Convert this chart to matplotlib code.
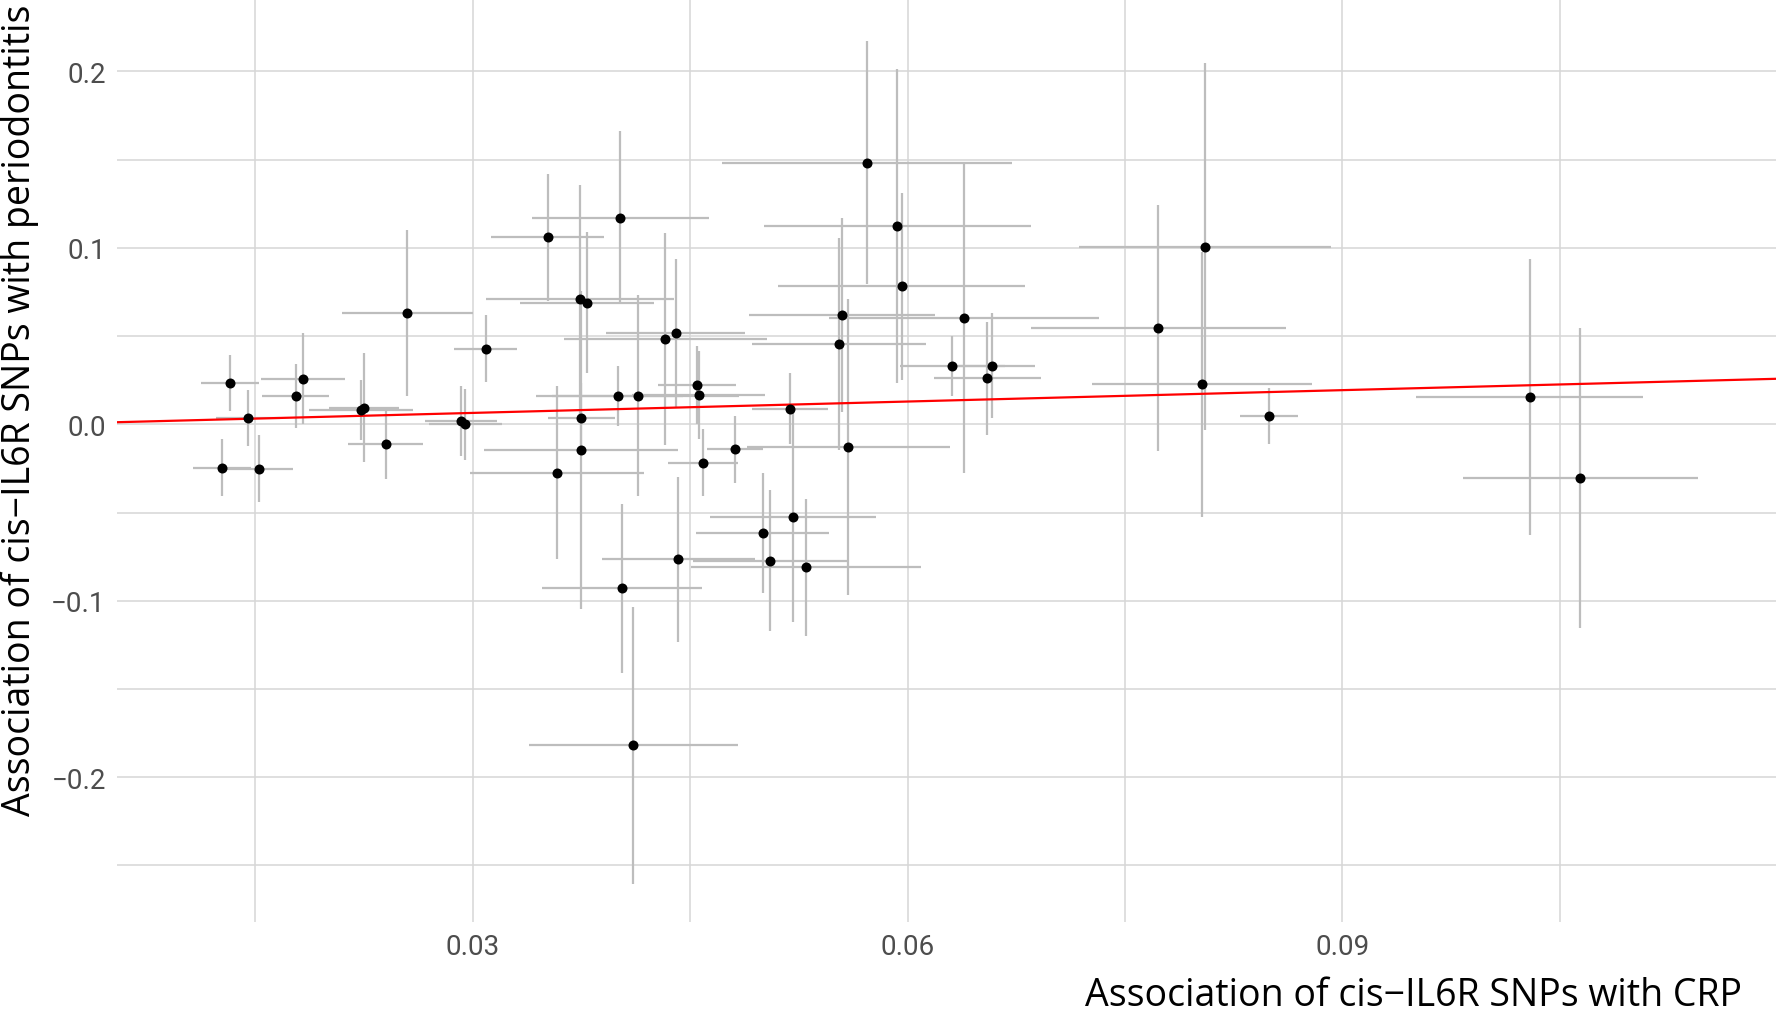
import numpy as np
import matplotlib
matplotlib.use("Agg")
import matplotlib.pyplot as plt
from matplotlib.ticker import FixedLocator, FuncFormatter

# SNP-exposure (CRP) and SNP-outcome (periodontitis) associations
bx = [0.0133, 0.0145, 0.0127, 0.0153, 0.0178, 0.0183, 0.0223, 0.0225, 0.0240, 0.0255,
      0.0292, 0.0295, 0.0309, 0.0352, 0.0374, 0.0379, 0.0402, 0.0358, 0.0375, 0.0375,
      0.0400, 0.0414, 0.0433, 0.0440, 0.0455, 0.0456, 0.0459, 0.0481, 0.0519, 0.0555,
      0.0553, 0.0559, 0.0572, 0.0593, 0.0521, 0.0500, 0.0442, 0.0505, 0.0530, 0.0403,
      0.0411, 0.0596, 0.0639, 0.0631, 0.0658, 0.0655, 0.0773, 0.0805, 0.0803, 0.0849,
      0.1029, 0.1064]
by = [0.0234, 0.0036, -0.0246, -0.0251, 0.0161, 0.0259, 0.0081, 0.0094, -0.0111, 0.0633,
      0.0019, 0.0000, 0.0429, 0.1060, 0.0708, 0.0689, 0.1171, -0.0274, 0.0036, -0.0147,
      0.0161, 0.0161, 0.0485, 0.0516, 0.0221, 0.0166, -0.0217, -0.0142, 0.0089, 0.0621,
      0.0457, -0.0128, 0.1483, 0.1123, -0.0528, -0.0618, -0.0766, -0.0774, -0.0811, -0.0929,
      -0.1819, 0.0783, 0.0604, 0.0329, 0.0333, 0.0260, 0.0545, 0.1006, 0.0227, 0.0048,
      0.0154, -0.0307]
sx = [0.0020, 0.0022, 0.0020, 0.0023, 0.0023, 0.0029, 0.0036, 0.0024, 0.0026, 0.0045,
      0.0025, 0.0025, 0.0022, 0.0039, 0.0065, 0.0046, 0.0061, 0.0060, 0.0023, 0.0067,
      0.0045, 0.0070, 0.0070, 0.0048, 0.0027, 0.0046, 0.0024, 0.0019, 0.0026, 0.0064,
      0.0060, 0.0070, 0.0100, 0.0092, 0.0057, 0.0046, 0.0053, 0.0053, 0.0079, 0.0055,
      0.0072, 0.0085, 0.0093, 0.0036, 0.0030, 0.0037, 0.0088, 0.0087, 0.0076, 0.0020,
      0.0078, 0.0081]
sy = [0.0157, 0.0160, 0.0160, 0.0190, 0.0180, 0.0260, 0.0170, 0.0310, 0.0200, 0.0470,
      0.0200, 0.0200, 0.0190, 0.0360, 0.0650, 0.0400, 0.0490, 0.0490, 0.0200, 0.0900,
      0.0170, 0.0570, 0.0600, 0.0420, 0.0220, 0.0250, 0.0190, 0.0190, 0.0200, 0.0550,
      0.0600, 0.0840, 0.0690, 0.0890, 0.0590, 0.0340, 0.0470, 0.0400, 0.0390, 0.0480,
      0.0786, 0.0530, 0.0880, 0.0170, 0.0300, 0.0320, 0.0695, 0.1040, 0.0750, 0.0160,
      0.0780, 0.0850]
ivw_slope = 0.215

xticks = [0.03, 0.06, 0.09]
xminor = [0.015, 0.045, 0.075, 0.105]
yticks = [-0.2, -0.1, 0.0, 0.1, 0.2]
yminor = [-0.25, -0.15, -0.05, 0.05, 0.15]

fig = plt.figure(figsize=(17.76, 10.12), dpi=100)
ax = fig.add_axes([0.0658, 0.088, 0.9342, 0.912])

ax.errorbar(bx, by, xerr=sx, yerr=sy, fmt='none', ecolor='#bdbdbd', elinewidth=1.6,
            capsize=0, zorder=2)
ax.scatter(bx, by, s=52, color='black', zorder=4, linewidths=0)
ax.axline((0, 0), slope=ivw_slope, color='red', lw=1.6, zorder=3)

ax.set_xlim(0.00547, 0.1199)
ax.set_ylim(-0.282, 0.241)

ax.xaxis.set_major_locator(FixedLocator(xticks))
ax.xaxis.set_minor_locator(FixedLocator(xminor))
ax.yaxis.set_major_locator(FixedLocator(yticks))
ax.yaxis.set_minor_locator(FixedLocator(yminor))
ax.xaxis.set_major_formatter(FuncFormatter(lambda v, p: f"{v:.2f}"))
ax.yaxis.set_major_formatter(FuncFormatter(lambda v, p: f"{v:.1f}".replace('-', '\u2212')))

ax.grid(True, which='both', color='#d6d6d6', lw=1.1)
ax.set_axisbelow(True)
for s in ax.spines.values():
    s.set_visible(False)
ax.tick_params(which='both', length=0)
tick_font = ['Liberation Sans Narrow', 'Roboto', 'DejaVu Sans']
for lab in ax.get_xticklabels() + ax.get_yticklabels():
    lab.set_family(tick_font)
    lab.set_fontsize(20)
    lab.set_color('#4d4d4d')
ax.tick_params(axis='x', pad=8)
ax.tick_params(axis='y', pad=8)

# axis titles placed by hand, as in the (slightly cropped) original
fig.text(0.981, 0.006, "Association of cis\u2212IL6R SNPs with CRP", family='Open Sans',
         fontsize=27, ha='right', va='baseline')
fig.text(0.0005, 0.194, "Association of cis\u2212IL6R SNPs with periodontitis",
         family='Open Sans', fontsize=27, rotation=90, ha='left', va='bottom')

fig.savefig('out.png', dpi=100)
